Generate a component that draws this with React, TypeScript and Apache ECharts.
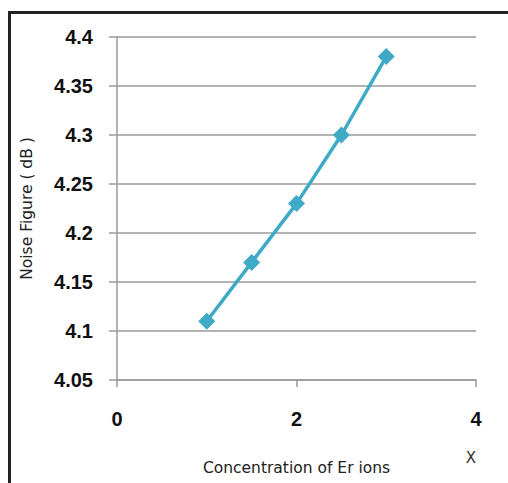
import React, { useEffect, useRef } from "react";
import * as echarts from "echarts";

const xValues = [1, 1.5, 2, 2.5, 3];
const noiseFigure = [4.11, 4.17, 4.23, 4.3, 4.38];
const yTicks = { min: 4.05, max: 4.4, interval: 0.05 };
const xTicks = { min: 0, max: 4, interval: 2 };

export default function App() {
  const ref = useRef<HTMLDivElement>(null);
  useEffect(() => {
    if (!ref.current) return;
    const chart = echarts.init(ref.current, null, { renderer: "svg" });
    const gray = "#9a9a9a";
    chart.setOption({
      animation: false,
      backgroundColor: "#ffffff",
      grid: { left: 117, right: 32, top: 37, bottom: 103 },
      xAxis: {
        type: "value",
        min: xTicks.min,
        max: xTicks.max,
        interval: xTicks.interval,
        name: "Concentration of Er ions",
        nameLocation: "middle",
        nameGap: 80,
        nameTextStyle: { fontFamily: "DejaVu Sans", fontSize: 15.5, color: "#222" },
        axisLine: { show: true, lineStyle: { color: gray, width: 1.5 } },
        axisTick: { show: true, length: 7, lineStyle: { color: gray, width: 1.5 } },
        splitLine: { show: false },
        axisLabel: {
          margin: 29,
          fontFamily: "Liberation Sans",
          fontWeight: "bold",
          fontSize: 20,
          color: "#111",
        },
      },
      yAxis: {
        type: "value",
        min: yTicks.min,
        max: yTicks.max,
        interval: yTicks.interval,
        name: "Noise Figure ( dB )",
        nameLocation: "middle",
        nameGap: 82,
        nameRotate: 90,
        nameTextStyle: { fontFamily: "DejaVu Sans", fontSize: 15.5, color: "#222" },
        axisLine: { show: true, lineStyle: { color: gray, width: 1.5 } },
        axisTick: { show: true, length: 8, lineStyle: { color: gray, width: 1.5 } },
        splitLine: { show: true, lineStyle: { color: gray, width: 1.5 } },
        axisLabel: {
          margin: 24,
          fontFamily: "Liberation Sans",
          fontWeight: "bold",
          fontSize: 20,
          color: "#111",
          formatter: (v: number) => String(parseFloat(v.toFixed(2))),
        },
      },
      graphic: [
        {
          type: "rect",
          shape: { x: 9.5, y: 12.5, width: 600, height: 600 },
          style: { fill: "none", stroke: "#222", lineWidth: 3 },
          silent: true,
        },
        {
          type: "text",
          x: 471,
          y: 458,
          style: {
            text: "X",
            fontFamily: "DejaVu Sans",
            fontSize: 15,
            fill: "#333",
            align: "center",
            verticalAlign: "middle",
          },
        },
      ],
      series: [
        {
          type: "line",
          data: xValues.map((x, i) => [x, noiseFigure[i]]),
          symbol: "diamond",
          symbolSize: 17,
          lineStyle: { color: "#3FAAC6", width: 3.5 },
          itemStyle: { color: "#3FAAC6" },
        },
      ],
    });
    return () => chart.dispose();
  }, []);
  return (
    <div
      ref={ref}
      style={{ position: "absolute", left: 0, top: 0, width: 508, height: 483 }}
    />
  );
}
